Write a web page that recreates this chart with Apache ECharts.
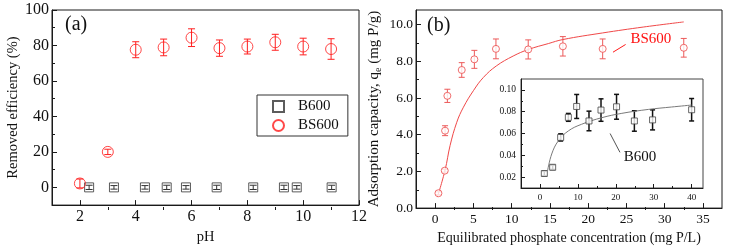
<!DOCTYPE html>
<html><head><meta charset="utf-8">
<script src="https://cdn.jsdelivr.net/npm/echarts@6/dist/echarts.min.js"></script>
<style>html,body{margin:0;padding:0;background:#fff}#c{width:733px;height:250px}</style>
</head><body><div id="c"></div>
<script>
// ---------- Panel (a): removal efficiency vs pH ----------
const phB600   = [2.33, 3.22, 4.33, 5.11, 5.80, 6.90, 8.21, 9.31, 9.77, 11.02];
const effB600  = [0, 0, 0, 0, 0, 0, 0, 0, 0, 0];
const errB600  = [1.2, 1.0, 1.0, 1.2, 1.0, 1.2, 1.2, 1.2, 1.0, 1.2];
const phBS600  = [2, 3, 4, 5, 6, 7, 8, 9, 10, 11];
const effBS600 = [2.2, 20.0, 77.6, 78.9, 84.4, 78.5, 79.4, 81.8, 79.4, 78.0];
const errBS600 = [2.5, 1.5, 4.5, 4.7, 5.0, 4.6, 4.2, 4.5, 4.7, 5.8];
const aXTicks = [2, 4, 6, 8, 10, 12];
const aXMinor = [3, 5, 7, 9, 11];
const aYTicks = [0, 20, 40, 60, 80, 100];
const aYMinor = [10, 30, 50, 70, 90];

// ---------- Panel (b): adsorption isotherm, BS600 ----------
const ceBS600  = [0.43, 1.26, 1.30, 1.60, 3.48, 5.13, 7.95, 12.17, 16.7, 21.9, 32.5];
const qeBS600  = [0.81, 2.04, 4.22, 6.12, 7.53, 8.11, 8.68, 8.65, 8.82, 8.68, 8.74];
const eqBS600  = [0.08, 0.08, 0.27, 0.36, 0.40, 0.49, 0.54, 0.52, 0.53, 0.54, 0.51];
const fitCeBS  = [0.3, 1.3, 1.96, 2.83, 3.7, 5.0, 6.3, 8.0, 10.2, 12.2, 14.8, 16.7, 21.9, 27.2, 32.5];
const fitQeBS  = [0.6, 2.07, 3.42, 4.68, 5.5, 6.4, 7.12, 7.75, 8.29, 8.65, 8.97, 9.19, 9.55, 9.87, 10.15];
const bXTicks = [0, 5, 10, 15, 20, 25, 30, 35];
const bXMinor = [2.5, 7.5, 12.5, 17.5, 22.5, 27.5, 32.5];
const bYTicks = [0, 2, 4, 6, 8, 10];
const bYMinor = [1, 3, 5, 7, 9];

// ---------- Inset: B600 isotherm ----------
const ceB600  = [1.15, 3.35, 5.46, 7.49, 9.68, 12.93, 16.1, 20.2, 24.9, 29.7, 40.0];
const qeB600  = [0.0233, 0.0290, 0.0564, 0.0748, 0.0848, 0.0715, 0.0815, 0.0845, 0.0715, 0.0725, 0.0818];
const eqB600  = [0.002, 0.002, 0.0033, 0.0036, 0.011, 0.009, 0.0103, 0.0114, 0.0094, 0.0092, 0.0103];
const fitCeB  = [2.0, 3.1, 4.85, 7.5, 11.0, 16.3, 21.6, 28.6, 34.7, 40.0];
const fitQeB  = [0.0257, 0.0412, 0.0533, 0.0624, 0.0685, 0.0745, 0.0785, 0.0821, 0.0843, 0.0861];
const iXTicks = [0, 10, 20, 30, 40];
const iXMinor = [5, 15, 25, 35];
const iYTicks = [0.02, 0.04, 0.06, 0.08, 0.10];
const iYMinor = [0.03, 0.05, 0.07, 0.09];

// annotation anchors (data coordinates)
const arrowBS = [[24.9, 8.92], [23.25, 8.5]];
const labelBS = [28.2, 9.19];
const arrowB  = [[21.1, 0.0427], [18.5, 0.060]];
const labelB  = [26.4, 0.0382];

const FONT = 'Liberation Serif';
const AX = '#1a1a1a';
const chart = echarts.init(document.getElementById('c'));

const grids = [
  {left: 52, top: 10, width: 307, height: 200},
  {left: 416, top: 10, width: 306, height: 200},
  {left: 521, top: 79, width: 182, height: 109}
];

function majorX(gi, min, max, vals, fs, fmt, margin, name, nameFs, nameGap, len) {
  return {type: 'value', gridIndex: gi, position: 'bottom', min: min, max: max,
    splitLine: {show: false},
    axisLine: {show: true, onZero: false, lineStyle: {color: AX, width: 1}},
    axisTick: {show: true, inside: true, length: len, customValues: vals, lineStyle: {color: AX}},
    axisLabel: {show: true, customValues: vals, formatter: fmt, fontFamily: FONT, fontSize: fs, color: '#111', margin: margin},
    name: name, nameLocation: 'middle', nameGap: nameGap,
    nameTextStyle: {fontFamily: FONT, fontSize: nameFs, color: '#111'}};
}
function minorX(gi, min, max, vals, len, H) {
  return {type: 'value', gridIndex: gi, position: 'top', offset: -H, min: min, max: max,
    splitLine: {show: false}, axisLine: {show: false, onZero: false},
    axisTick: {show: true, inside: false, length: len, customValues: vals, lineStyle: {color: AX}},
    axisLabel: {show: false}};
}
function majorY(gi, min, max, vals, fs, fmt, margin, name, nameFs, nameGap, len, rich) {
  return {type: 'value', gridIndex: gi, position: 'left', min: min, max: max,
    splitLine: {show: false},
    axisLine: {show: true, onZero: false, lineStyle: {color: AX, width: 1}},
    axisTick: {show: true, inside: true, length: len, customValues: vals, lineStyle: {color: AX}},
    axisLabel: {show: true, customValues: vals, formatter: fmt, fontFamily: FONT, fontSize: fs, color: '#111', margin: margin},
    name: name, nameLocation: 'middle', nameGap: nameGap,
    nameTextStyle: {fontFamily: FONT, fontSize: nameFs, color: '#111', rich: rich || {}}};
}
function minorY(gi, min, max, vals, len, W) {
  return {type: 'value', gridIndex: gi, position: 'right', offset: -W, min: min, max: max,
    splitLine: {show: false}, axisLine: {show: false, onZero: false},
    axisTick: {show: true, inside: false, length: len, customValues: vals, lineStyle: {color: AX}},
    axisLabel: {show: false}};
}

function errItem(cap, color, width) {
  return function (params, api) {
    const x = api.value(0), y = api.value(1), e = api.value(2);
    const t = api.coord([x, y + e]), b = api.coord([x, y - e]);
    const st = {stroke: color, lineWidth: width, fill: null};
    return {type: 'group', children: [
      {type: 'line', shape: {x1: t[0], y1: t[1], x2: b[0], y2: b[1]}, style: st},
      {type: 'line', shape: {x1: t[0] - cap, y1: t[1], x2: t[0] + cap, y2: t[1]}, style: st},
      {type: 'line', shape: {x1: b[0] - cap, y1: b[1], x2: b[0] + cap, y2: b[1]}, style: st}
    ]};
  };
}
function triples(xs, ys, es) { return xs.map((x, i) => [x, ys[i], es[i]]); }
function pairs(xs, ys) { return xs.map((x, i) => [x, ys[i]]); }

const f0 = v => String(v);
const f1 = v => v.toFixed(1);
const f2 = v => v.toFixed(2);

const option = {
  animation: false,
  backgroundColor: '#fff',
  grid: [
    Object.assign({show: true, borderColor: AX, borderWidth: 1, backgroundColor: 'transparent'}, grids[0]),
    Object.assign({show: true, borderColor: AX, borderWidth: 1, backgroundColor: 'transparent'}, grids[1]),
    Object.assign({show: true, borderColor: '#444', borderWidth: 1, backgroundColor: '#fff', z: 3}, grids[2])
  ],
  xAxis: [
    majorX(0, 1, 12, aXTicks, 16, f0, 4, 'pH', 14.5, 19, 5),
    minorX(0, 1, 12, aXMinor, 3, 200),
    majorX(1, -2.5, 37.5, bXTicks, 13.5, f0, 4, 'Equilibrated phosphate concentration (mg P/L)', 14, 20, 5),
    minorX(1, -2.5, 37.5, bXMinor, 3, 200),
    Object.assign(majorX(2, -5, 43, iXTicks, 9, f0, 5, '', 9, 10, 4), {z: 4}),
    Object.assign(minorX(2, -5, 43, iXMinor, 2, 109), {z: 4})
  ],
  yAxis: [
    majorY(0, -10, 100, aYTicks, 16, f0, 3, 'Removed efficiency (%)', 14.5, 28, 5),
    minorY(0, -10, 100, aYMinor, 3, 307),
    majorY(1, 0, 10.8, bYTicks, 13.5, f1, 3, 'Adsorption capacity, q{sub|e} (mg P/g)', 15, 33, 5,
      {sub: {fontFamily: FONT, fontSize: 10, color: '#111', padding: [7, 0, 0, 0]}}),
    minorY(1, 0, 10.8, bYMinor, 3, 306),
    Object.assign(majorY(2, 0.01, 0.11, iYTicks, 9.5, f2, 5, '', 9, 10, 4), {z: 4}),
    Object.assign(minorY(2, 0.01, 0.11, iYMinor, 2, 182), {z: 4})
  ],
  legend: {
    data: ['B600', 'BS600'], orient: 'vertical', left: 257, top: 95,
    itemWidth: 11, itemHeight: 11, itemGap: 4, padding: [4, 9, 3, 15],
    borderColor: '#333', borderWidth: 1, backgroundColor: '#fff',
    textStyle: {fontFamily: FONT, fontSize: 15, color: '#111', padding: [0, 0, 0, 9]}
  },
  graphic: [
    {type: 'text', left: 65, top: 15, style: {text: '(a)', font: '20px "Liberation Serif"', fill: '#111'}},
    {type: 'text', left: 427, top: 16, style: {text: '(b)', font: '20px "Liberation Serif"', fill: '#111'}}
  ],
  series: [
    // panel (a)
    {type: 'custom', name: 'errB600', xAxisIndex: 0, yAxisIndex: 0, z: 3,
      renderItem: errItem(3.5, '#333', 1), encode: {x: 0, y: 1}, data: triples(phB600, effB600, errB600)},
    {type: 'scatter', name: 'B600', xAxisIndex: 0, yAxisIndex: 0, symbol: 'rect', symbolSize: 9, z: 4,
      itemStyle: {color: 'rgba(255,255,255,0)', borderColor: '#333', borderWidth: 1},
      data: pairs(phB600, effB600)},
    {type: 'custom', name: 'errBS600', xAxisIndex: 0, yAxisIndex: 0, z: 3,
      renderItem: errItem(3.5, '#ff2020', 1), encode: {x: 0, y: 1}, data: triples(phBS600, effBS600, errBS600)},
    {type: 'scatter', name: 'BS600', xAxisIndex: 0, yAxisIndex: 0, symbol: 'circle', symbolSize: 11, z: 4,
      itemStyle: {color: 'rgba(255,255,255,0)', borderColor: '#ff1a1a', borderWidth: 1},
      data: pairs(phBS600, effBS600)},
    // panel (b)
    {type: 'line', name: 'fitBS', xAxisIndex: 2, yAxisIndex: 2, smooth: 0.4, showSymbol: false, symbol: 'none',
      lineStyle: {color: '#f04848', width: 1}, data: pairs(fitCeBS, fitQeBS), z: 2},
    {type: 'custom', name: 'errqBS', xAxisIndex: 2, yAxisIndex: 2, z: 2,
      renderItem: errItem(3, '#ec5a5a', 1), encode: {x: 0, y: 1}, data: triples(ceBS600, qeBS600, eqBS600)},
    {type: 'scatter', name: 'qBS600', xAxisIndex: 2, yAxisIndex: 2, symbol: 'circle', symbolSize: 7, z: 3,
      itemStyle: {color: '#fff', borderColor: '#ec4a4a', borderWidth: 1},
      data: pairs(ceBS600, qeBS600),
      markLine: {silent: true, symbol: ['none', 'arrow'], symbolSize: [0, 7], animation: false,
        lineStyle: {color: '#ff1a1a', width: 1, type: 'solid'}, label: {show: false},
        data: [[{coord: arrowBS[0]}, {coord: arrowBS[1]}]]},
      markPoint: {silent: true, symbol: 'circle', symbolSize: 0, animation: false,
        label: {show: true, position: 'inside', formatter: 'BS600', fontFamily: FONT, fontSize: 15, color: '#ff1010'},
        data: [{coord: labelBS}]}},
    // inset
    {type: 'line', name: 'fitB', xAxisIndex: 4, yAxisIndex: 4, smooth: 0.4, showSymbol: false, symbol: 'none',
      lineStyle: {color: '#7a7a7a', width: 1}, data: pairs(fitCeB, fitQeB), z: 5},
    {type: 'custom', name: 'errqB', xAxisIndex: 4, yAxisIndex: 4, z: 5,
      renderItem: errItem(2.5, '#111', 1.5), encode: {x: 0, y: 1}, data: triples(ceB600, qeB600, eqB600)},
    {type: 'scatter', name: 'qB600', xAxisIndex: 4, yAxisIndex: 4, symbol: 'rect', symbolSize: 6, z: 6,
      itemStyle: {color: '#fff', borderColor: '#444', borderWidth: 1},
      data: pairs(ceB600, qeB600),
      markLine: {silent: true, symbol: ['none', 'arrow'], symbolSize: [0, 6], animation: false,
        lineStyle: {color: '#555', width: 1, type: 'solid'}, label: {show: false},
        data: [[{coord: arrowB[0]}, {coord: arrowB[1]}]]},
      markPoint: {silent: true, symbol: 'circle', symbolSize: 0, animation: false,
        label: {show: true, position: 'inside', formatter: 'B600', fontFamily: FONT, fontSize: 15, color: '#111'},
        data: [{coord: labelB}]}}
  ]
};
chart.setOption(option);
</script>
</body></html>
